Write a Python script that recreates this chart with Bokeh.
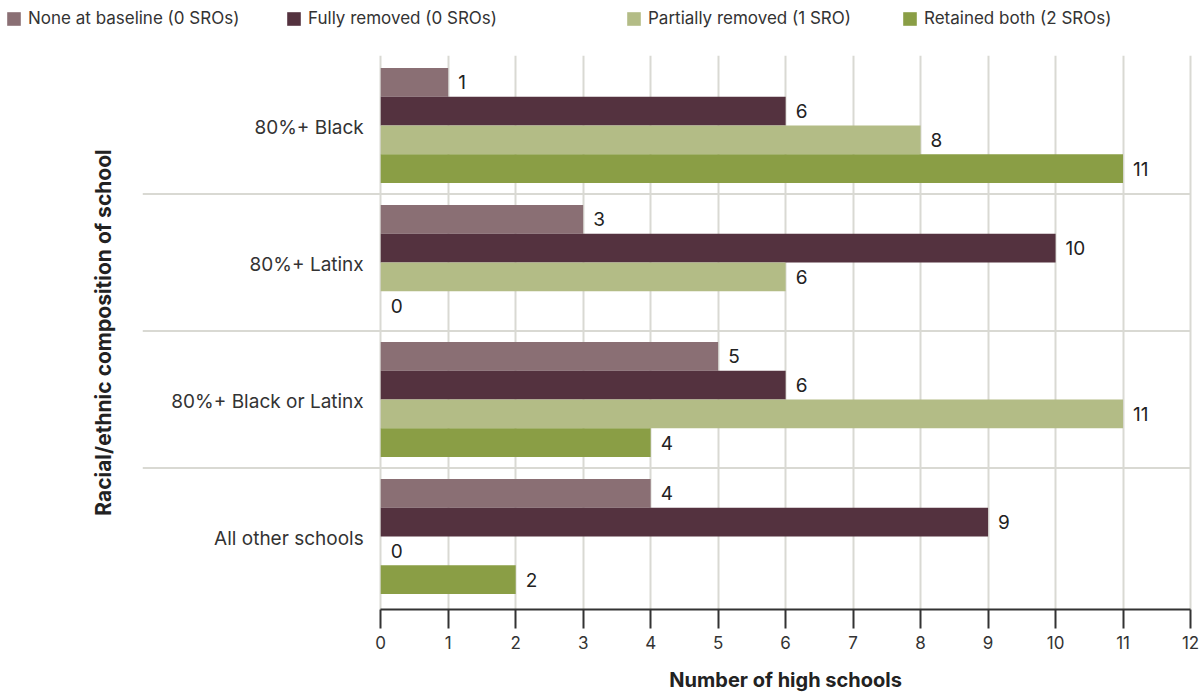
from bokeh.plotting import figure
from bokeh.layouts import column
from bokeh.models import ColumnDataSource, Range1d, FixedTicker, Legend, LegendItem
from bokeh.core.properties import value
from bokeh.embed import file_html
from bokeh.resources import INLINE

# ---- data -------------------------------------------------------------
categories = ["80%+ Black", "80%+ Latinx", "80%+ Black or Latinx", "All other schools"]
series_names = [
    "None at baseline (0 SROs)",
    "Fully removed (0 SROs)",
    "Partially removed (1 SRO)",
    "Retained both (2 SROs)",
]
none_at_baseline = [1, 3, 5, 4]
fully_removed = [6, 10, 6, 9]
partially_removed = [8, 6, 11, 0]
retained_both = [11, 0, 4, 2]
x_ticks = list(range(0, 13))
x_title = "Number of high schools"
y_title = "Racial/ethnic composition of school"

# ---- style ------------------------------------------------------------
colors = ["#8a6f74", "#54323f", "#b3bc86", "#8a9e45"]
FONT = "Inter"
TEXT = "#333333"
GRID = "#d9d9d3"
BAR_H = 0.21
WIDTH = 1203
LEGEND_H = 40          # legend strip on top
MAIN_H = 617           # chart with its axes
TITLE_H = 694 - LEGEND_H - MAIN_H  # strip holding the x axis title
BORDER_L, BORDER_R = 142, 10

n = len(categories)
centers = [n - 1 - i for i in range(n)]  # first category on top
series = [none_at_baseline, fully_removed, partially_removed, retained_both]
offsets = [1.5, 0.5, -0.5, -1.5]

x_range = Range1d(-3.53, 12.044)
y_range = Range1d(-0.533, 3.511)

# ---- main chart -------------------------------------------------------
p = figure(
    width=WIDTH, height=MAIN_H,
    output_backend="svg", toolbar_location=None,
    x_range=x_range, y_range=y_range,
    min_border_left=BORDER_L, min_border_right=BORDER_R,
    min_border_top=15, min_border_bottom=48,
)
p.frame_align = False
p.outline_line_color = None
p.background_fill_color = "white"
p.border_fill_color = "white"

# separators between category groups
bounds = [c + 0.5 for c in centers[1:]]
p.segment(x0=[x_range.start] * len(bounds), y0=bounds,
          x1=[x_ticks[-1]] * len(bounds), y1=bounds,
          line_color=GRID, line_width=2)

# bars and value labels
for k, (vals, color) in enumerate(zip(series, colors)):
    ys = [c + offsets[k] * BAR_H for c in centers]
    src = ColumnDataSource(dict(y=ys, right=vals, label=[str(v) for v in vals]))
    p.hbar(y="y", left=0, right="right", height=BAR_H, fill_color=color,
           line_color=None, source=src)
    p.text(x="right", y="y", text="label", source=src, x_offset=10,
           text_baseline="middle", text_align="left",
           text_font=value(FONT), text_font_size="19px", text_color="#222222")

# category names to the left of the bars
p.text(x=[0] * n, y=centers, text=categories, x_offset=-17, y_offset=2,
       text_baseline="middle", text_align="right",
       text_font=value(FONT), text_font_size="19px", text_color=TEXT)

# x axis (spans 0..12 only)
xa = p.xaxis[0]
xa.ticker = FixedTicker(ticks=x_ticks)
xa.bounds = (x_ticks[0], x_ticks[-1])
xa.axis_line_color = "#333333"
xa.axis_line_width = 2
xa.major_tick_line_color = "#333333"
xa.major_tick_line_width = 2
xa.major_tick_in = 0
xa.major_tick_out = 19
xa.minor_tick_line_color = None
xa.major_label_standoff = 7
xa.major_label_text_font = FONT
xa.major_label_text_font_size = "17px"
xa.major_label_text_color = TEXT

# y axis: title only
ya = p.yaxis[0]
ya.ticker = FixedTicker(ticks=[])
ya.axis_line_color = None
ya.major_tick_line_color = None
ya.minor_tick_line_color = None
ya.major_tick_out = 0
ya.major_label_standoff = 0
ya.axis_label = y_title
ya.axis_label_standoff = 27
ya.axis_label_text_font = FONT
ya.axis_label_text_font_size = "21px"
ya.axis_label_text_font_style = "bold"
ya.axis_label_text_color = "#222222"

# grid
p.xgrid.ticker = FixedTicker(ticks=x_ticks)
p.xgrid.grid_line_color = GRID
p.xgrid.grid_line_width = 2
p.ygrid.grid_line_color = None


def strip(height, xr, left, right):
    """A bare figure without axes, grid or outline."""
    f = figure(
        width=WIDTH, height=height,
        output_backend="svg", toolbar_location=None,
        x_range=xr, y_range=Range1d(0, 1),
        x_axis_location=None, y_axis_location=None,
        min_border_left=left, min_border_right=right,
        min_border_top=0, min_border_bottom=0,
    )
    f.frame_align = False
    f.outline_line_color = None
    f.xgrid.visible = False
    f.ygrid.visible = False
    return f


# ---- legend strip across the top ----------------------------------------
top = strip(LEGEND_H, Range1d(0, 1), 0, 0)
legend_x = [5, 285, 625, 901]
nan = float("nan")
for name, color, lx in zip(series_names, colors, legend_x):
    swatch = top.hbar(y=[nan], left=[nan], right=[nan], height=1,
                      fill_color=color, line_color=None)
    lg = Legend(
        items=[LegendItem(label=name, renderers=[swatch])],
        location=(lx, 12), orientation="horizontal",
        padding=0, margin=0, spacing=0,
        glyph_width=17, glyph_height=17, label_height=20, label_standoff=6,
        border_line_color=None, background_fill_alpha=0,
        label_text_font=FONT, label_text_font_size="17px", label_text_color=TEXT,
    )
    top.add_layout(lg)

# ---- x axis title, centred under the 0..12 scale ------------------------
bottom = strip(TITLE_H, x_range, BORDER_L, BORDER_R)
bottom.text(x=[(x_ticks[0] + x_ticks[-1]) / 2], y=[0.4], text=[x_title],
            text_align="center", text_baseline="middle",
            text_font=value(FONT), text_font_size="20px", text_font_style="bold",
            text_color="#222222")

layout = column(top, p, bottom, spacing=0)
open("out.html", "w").write(file_html(layout, INLINE))
